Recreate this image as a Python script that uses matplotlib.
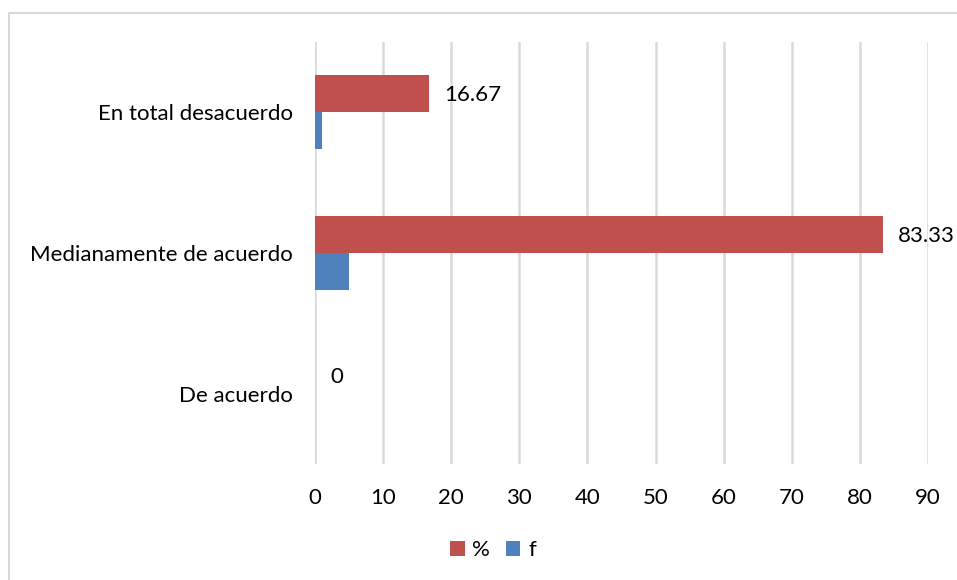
import numpy as np
import matplotlib.pyplot as plt
from matplotlib.lines import Line2D

plt.rcParams['font.family'] = ['Lato', 'DejaVu Sans']

categories = ['De acuerdo', 'Medianamente de acuerdo', 'En total desacuerdo']
pct_values = [0, 83.33, 16.67]
f_values = [0, 5, 1]
pct_labels = ['0', '83.33', '16.67']
x_ticks = [0, 10, 20, 30, 40, 50, 60, 70, 80, 90]

RED = '#C0504D'
BLUE = '#4F81BD'
FS = 16

fig = plt.figure(figsize=(9.57, 5.8), dpi=100)
ax = fig.add_axes([315 / 957, 1 - 464 / 580, (928 - 315) / 957, (464 - 42) / 580])

y = np.arange(len(categories))
h = 0.263
ax.barh(y + h / 2, pct_values, height=h, color=RED, label='%', zorder=3)
ax.barh(y - h / 2, f_values, height=h, color=BLUE, label='f', zorder=3)

# data labels on the % series
for yi, v, lab in zip(y, pct_values, pct_labels):
    ax.text(v + 2.3, yi + h / 2 - 0.01, lab, va='center', ha='left', fontsize=FS, color='#000000')

ax.set_xlim(0, 90)
ax.set_ylim(-0.5, 2.5)
ax.set_xticks(x_ticks)
ax.set_yticks(y)
ax.set_yticklabels(categories)
ax.tick_params(axis='both', length=0, labelsize=FS, colors='#000000')
ax.tick_params(axis='x', pad=17)
ax.tick_params(axis='y', pad=16)
ax.xaxis.grid(True, color='#D9D9D9', linewidth=1.8, zorder=0)
for s in ax.spines.values():
    s.set_visible(False)

ax.legend(loc='center', bbox_to_anchor=(493 / 957, 1 - 550 / 580), bbox_transform=fig.transFigure,
          ncol=2, frameon=False, fontsize=FS, handlelength=0.65, handleheight=0.65,
          handletextpad=0.35, columnspacing=0.7)

# chart border (only top and left edges visible)
bx, by = 8.5 / 957, 1 - 12.5 / 580
fig.lines.append(Line2D([bx, bx, 1], [0, by, by], transform=fig.transFigure,
                        color='#D9D9D9', linewidth=1.5))

fig.savefig('out.png', dpi=100)
